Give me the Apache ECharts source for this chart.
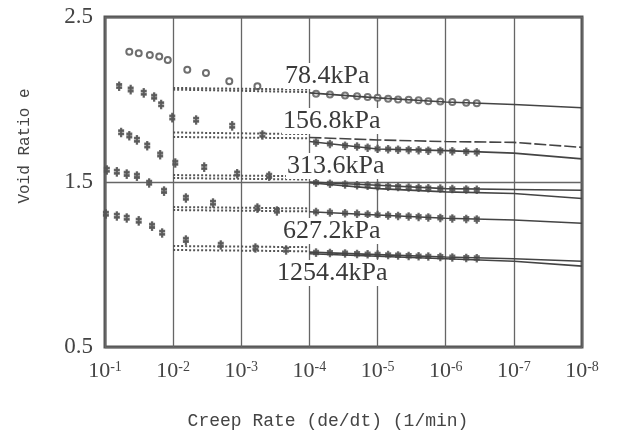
<!DOCTYPE html>
<html>
<head>
<meta charset="utf-8">
<script src="https://cdn.jsdelivr.net/npm/echarts@6/dist/echarts.min.js"></script>
<style>
  html, body { margin: 0; padding: 0; background: #fff; }
  #chart { width: 627px; height: 438px; }
</style>
</head>
<body>
<div id="chart"></div>
<script>
// pressure labels
var loads = ['78.4kPa', '156.8kPa', '313.6kPa', '627.2kPa', '1254.4kPa'];

// early readings (creep rate, void ratio) for each load
var earlyRate = [
  [0.044, 0.032, 0.022, 0.016, 0.012, 0.0062, 0.0033, 0.0015, 0.00058],
  [0.062, 0.042, 0.027, 0.019, 0.015, 0.0103, 0.0046, 0.00136, 0.00049],
  [0.058, 0.044, 0.034, 0.024, 0.0155, 0.0093, 0.0035, 0.00115, 0.00039],
  [0.094, 0.067, 0.048, 0.034, 0.0225, 0.0136, 0.0065, 0.0026, 0.00058, 0.0003],
  [0.097, 0.067, 0.048, 0.032, 0.0204, 0.0145, 0.0065, 0.002, 0.00062, 0.00022]
];
var earlyVoid = [
  [2.29, 2.28, 2.27, 2.26, 2.24, 2.18, 2.16, 2.11, 2.08],
  [2.08, 2.06, 2.04, 2.015, 1.97, 1.89, 1.876, 1.84, 1.785],
  [1.80, 1.78, 1.755, 1.72, 1.665, 1.615, 1.59, 1.55, 1.536],
  [1.573, 1.561, 1.548, 1.536, 1.494, 1.445, 1.403, 1.373, 1.342, 1.324],
  [1.306, 1.294, 1.282, 1.264, 1.233, 1.191, 1.148, 1.118, 1.10, 1.088]
];

// dense late readings
var lateRate = [8e-5, 5e-5, 3e-5, 2e-5, 1.4e-5, 1e-5, 7e-6, 5e-6, 3.5e-6, 2.5e-6, 1.8e-6, 1.2e-6, 8e-7, 5e-7, 3.5e-7];
var lateVoid = [
  [2.035, 2.03, 2.025, 2.02, 2.015, 2.01, 2.005, 2.0, 1.998, 1.995, 1.99, 1.988, 1.985, 1.98, 1.978],
  [1.74, 1.73, 1.72, 1.715, 1.708, 1.70, 1.698, 1.696, 1.694, 1.692, 1.69, 1.688, 1.686, 1.683, 1.68],
  [1.495, 1.49, 1.485, 1.48, 1.478, 1.475, 1.472, 1.47, 1.467, 1.465, 1.462, 1.46, 1.457, 1.455, 1.453],
  [1.318, 1.315, 1.31, 1.307, 1.303, 1.30, 1.297, 1.294, 1.291, 1.288, 1.285, 1.282, 1.279, 1.276, 1.273],
  [1.072, 1.07, 1.067, 1.064, 1.062, 1.06, 1.057, 1.055, 1.052, 1.05, 1.048, 1.046, 1.043, 1.04, 1.038]
];

// fitted dotted lines between 1e-2 and 1e-4 (two per load)
var dotRate = [1e-2, 1e-4];
var dotUpper = [[2.07, 2.06], [1.80, 1.79], [1.542, 1.535], [1.348, 1.34], [1.112, 1.105]];
var dotLower = [[2.06, 2.045], [1.773, 1.765], [1.524, 1.515], [1.33, 1.322], [1.088, 1.08]];

// long-term lines
var lineRate = [1e-4, 1e-5, 1e-6, 1e-7, 1e-8];
var lineUpper = [
  [2.04, 2.01, 1.985, 1.97, 1.95],
  [1.77, 1.755, 1.745, 1.74, 1.71],
  [1.50, 1.48, 1.46, 1.455, 1.45],
  [1.32, 1.30, 1.28, 1.27, 1.25],
  [1.075, 1.06, 1.045, 1.035, 1.02]
];
var lineLower = [
  null,
  [1.745, 1.70, 1.69, 1.675, 1.64],
  [1.495, 1.46, 1.44, 1.43, 1.40],
  null,
  [1.065, 1.05, 1.035, 1.02, 0.99]
];

function pairs(xs, ys) {
  return xs.map(function (x, i) { return [x, ys[i]]; });
}

var ink = '#444';
var mark = 'path://M4,0h2v10h-2z M1,2h8v1.5h-8z M1,6h8v1.5h-8z';
var series = [];
loads.forEach(function (name, k) {
  var sym = k === 0 ? 'emptyCircle' : mark;
  series.push({
    type: 'scatter', data: pairs(earlyRate[k], earlyVoid[k]),
    symbol: sym, symbolSize: k === 0 ? 6 : [5, 8],
    itemStyle: { color: '#555', borderColor: '#555', borderWidth: 1.3, opacity: 0.85 }
  });
  series.push({
    type: 'line', data: pairs(dotRate, dotUpper[k]), symbol: 'none',
    lineStyle: { color: '#555', width: 2, type: [2, 2] }
  });
  series.push({
    type: 'line', data: pairs(dotRate, dotLower[k]), symbol: 'none',
    lineStyle: { color: '#555', width: 2, type: [2, 2] }
  });
  series.push({
    type: 'line', data: pairs(lineRate, lineUpper[k]), symbol: 'none',
    lineStyle: { color: ink, width: 1.6, type: k === 1 ? [12, 3] : 'solid' }
  });
  if (lineLower[k]) {
    series.push({
      type: 'line', data: pairs(lineRate, lineLower[k]), symbol: 'none',
      lineStyle: { color: ink, width: 1.6 }
    });
  }
  series.push({
    type: 'scatter', data: pairs(lateRate, lateVoid[k]),
    symbol: sym, symbolSize: k === 0 ? 6 : [5, 7],
    itemStyle: { color: '#555', borderColor: '#555', borderWidth: 1.3, opacity: 0.8 }
  });
});

// load labels, placed beside the curves
var labelTop = [63, 108, 153, 218, 260];
var labelLeft = [284, 282, 286, 282, 276];
var graphics = loads.map(function (t, k) {
  return {
    type: 'text', left: labelLeft[k], top: labelTop[k], z: 100,
    style: {
      text: t, fill: '#3a3a3a', backgroundColor: '#fff',
      font: '26px "Liberation Serif", serif', padding: [0, 1]
    }
  };
});
graphics.push({
  type: 'text', x: 25, y: 146, rotation: Math.PI / 2, z: 100,
  style: {
    text: 'Void Ratio e', fill: '#444', align: 'center', verticalAlign: 'middle',
    font: '16px "Liberation Mono", monospace'
  }
});
graphics.push({
  type: 'text', x: 328, y: 421, z: 100,
  style: {
    text: 'Creep Rate (de/dt) (1/min)', fill: '#444', align: 'center', verticalAlign: 'middle',
    font: '18px "Liberation Mono", monospace'
  }
});

var chart = echarts.init(document.getElementById('chart'), null, { renderer: 'canvas' });
chart.setOption({
  animation: false,
  backgroundColor: '#fff',
  grid: {
    left: 105, right: 45, top: 17, bottom: 91,
    show: true, borderColor: '#555', borderWidth: 3, backgroundColor: 'transparent'
  },
  xAxis: {
    type: 'log', logBase: 10, min: 1e-8, max: 0.1, inverse: true, splitNumber: 7,
    axisLine: { show: false }, axisTick: { show: false },
    splitLine: { show: true, lineStyle: { color: '#666', width: 1.3 } },
    axisLabel: {
      margin: 13,
      formatter: function (v) {
        return '{b|10}{s|' + Math.round(Math.log10(v)) + '}';
      },
      rich: {
        b: { fontFamily: 'Liberation Serif', fontSize: 22, color: '#444' },
        s: { fontFamily: 'Liberation Serif', fontSize: 14, color: '#444', verticalAlign: 'top', padding: [0, 0, 9, 0] }
      }
    }
  },
  yAxis: {
    type: 'value', min: 0.5, max: 2.5, interval: 1,
    axisLine: { show: false }, axisTick: { show: false },
    splitLine: { show: true, lineStyle: { color: '#666', width: 1.3 } },
    axisLabel: {
      margin: 12, fontFamily: 'Liberation Serif', fontSize: 23, color: '#444',
      formatter: function (v) { return v.toFixed(1); }
    }
  },
  series: series,
  graphic: graphics
});
</script>
</body>
</html>
